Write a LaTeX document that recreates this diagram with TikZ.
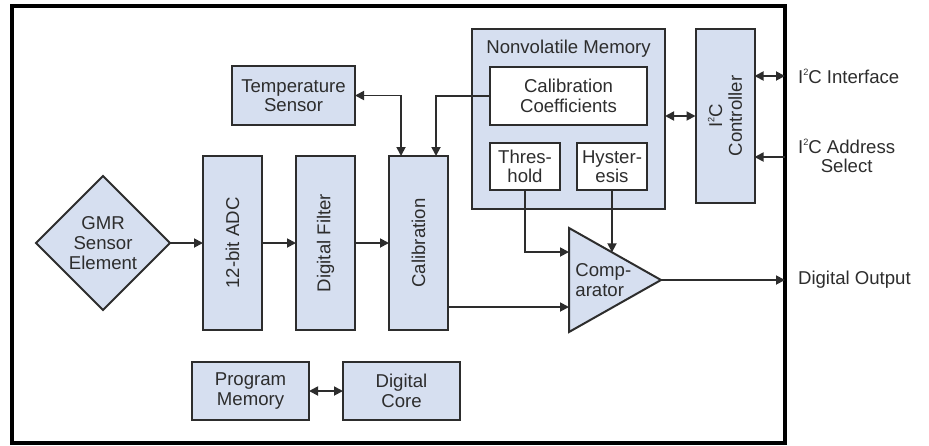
\documentclass[tikz,border=0pt]{standalone}
\usepackage{fontspec}
\setmainfont{Liberation Sans}
\usetikzlibrary{arrows.meta,positioning,calc,shapes.geometric}
\definecolor{chipBlue}{RGB}{214,223,240}
\definecolor{lineGray}{RGB}{45,45,45}
\definecolor{textGray}{RGB}{45,45,45}
\newcommand{\iic}{I\raisebox{0.42em}{\fontsize{4.6}{5}\selectfont 2}C}

\begin{document}
\begin{tikzpicture}[
    x=0.5pt,y=-0.5pt,
    font=\fontsize{9.3}{9.8}\selectfont,
    box/.style={draw=lineGray,line width=1pt,fill=chipBlue,inner sep=0pt,outer sep=0pt,align=center,text=textGray},
    vbox/.style={box,minimum width=29.5pt,minimum height=87pt},
    vlabel/.style={label={[rotate=90,align=center,text=textGray]center:#1}},
    memcell/.style={box,fill=white},
    arrow/.style={-{Triangle[length=4.5pt,width=4.5pt]},line width=0.9pt,draw=lineGray},
    biarrow/.style={arrow,{Triangle[length=4.5pt,width=4.5pt]}-{Triangle[length=4.5pt,width=4.5pt]}},
    pin/.style={anchor=west,align=center,text=textGray}
  ]
  \useasboundingbox (0,0) rectangle (929,445);
  % chip outline
  \node[draw=black,line width=1.7pt,inner sep=0pt,outer sep=0pt,minimum width=386.5pt,minimum height=218.5pt] (chip) at (398.5,224.5) {};

  % signal path
  \node[box,diamond,aspect=1,minimum size=67pt] (gmr) at (103,243) {GMR\\Sensor\\Element};
  \node[vbox,vlabel={12-bit ADC}] (adc) at (232.5,243) {};
  \node[vbox,vlabel={Digital Filter}] (filt) at (325.5,243) {};
  \node[vbox,vlabel={Calibration}] (calib) at (418.5,243) {};
  \node[box,minimum width=61.5pt,minimum height=29.5pt] (temp) at (293.5,95.5) {Temperature\\Sensor};

  % nonvolatile memory
  \node[box,minimum width=96.5pt,minimum height=90pt,label={[anchor=north,text=textGray,yshift=-2pt]north:Nonvolatile Memory}] (nvm) at (568.5,119) {};
  \node[memcell,minimum width=78.5pt,minimum height=29pt] (coef) at (568.5,96) {Calibration\\Coefficients};
  \node[memcell,minimum width=35pt,minimum height=23.5pt] (thr) at (525,166.5) {Thres-\\hold};
  \node[memcell,minimum width=35pt,minimum height=23.5pt] (hys) at (612,166.5) {Hyster-\\esis};
  \node[vbox,vlabel={\iic\\Controller}] (i2c) at (725,116) {};

  % comparator
  \node[box,isosceles triangle,isosceles triangle stretches,minimum width=52pt,minimum height=46pt,anchor=west] (cmp) at (569,280) {};
  \node[anchor=west,align=left,text=textGray,inner sep=0pt] (cmptxt) at ([xshift=3pt]cmp.west) {Comp-\\arator};
  \coordinate (inA) at ([yshift=14pt]cmp.west);
  \coordinate (inB) at ([yshift=-13.5pt]cmp.west);
  \coordinate (hysin) at ($(cmp.left corner)!0.467!(cmp.apex)$);

  % program memory and core
  \node[box,minimum width=58.5pt,minimum height=29pt] (prog) at (250.5,391) {Program\\Memory};
  \node[box,minimum width=58.5pt,minimum height=29pt] (core) at (401.5,391) {Digital\\Core};

  % connectors
  \draw[arrow] (gmr.east) -- (adc.west);
  \draw[arrow] (adc.east) -- (filt.west);
  \draw[arrow] (filt.east) -- (calib.west);
  \draw[biarrow] (temp.east) -| ([xshift=-8.75pt]calib.north);
  \draw[arrow] (coef.west) -| ([xshift=8.75pt]calib.north);
  \draw[biarrow] (nvm.east |- i2c.west) -- (i2c.west);
  \draw[biarrow] (i2c.east |- 0,76) -- (chip.east |- 0,76);
  \draw[arrow] (chip.east |- 0,157) -- (i2c.east |- 0,157);
  \draw[arrow] (thr.south) |- (inA);
  \draw[arrow] (hys.south) -- (hys.south |- hysin);
  \draw[arrow] (calib.east |- inB) -- (inB);
  \draw[arrow] (cmp.apex) -- (cmp.apex -| chip.east);
  \draw[biarrow] (prog) -- (core);

  % pin labels
  \node[pin] (ifclbl) at (791,76) {\iic{} Interface};
  \node[pin] (addrlbl) at (791,156) {\iic{} Address\\Select};
  \node[pin] (outlbl) at (791,280) {Digital Output};
\end{tikzpicture}
\end{document}
